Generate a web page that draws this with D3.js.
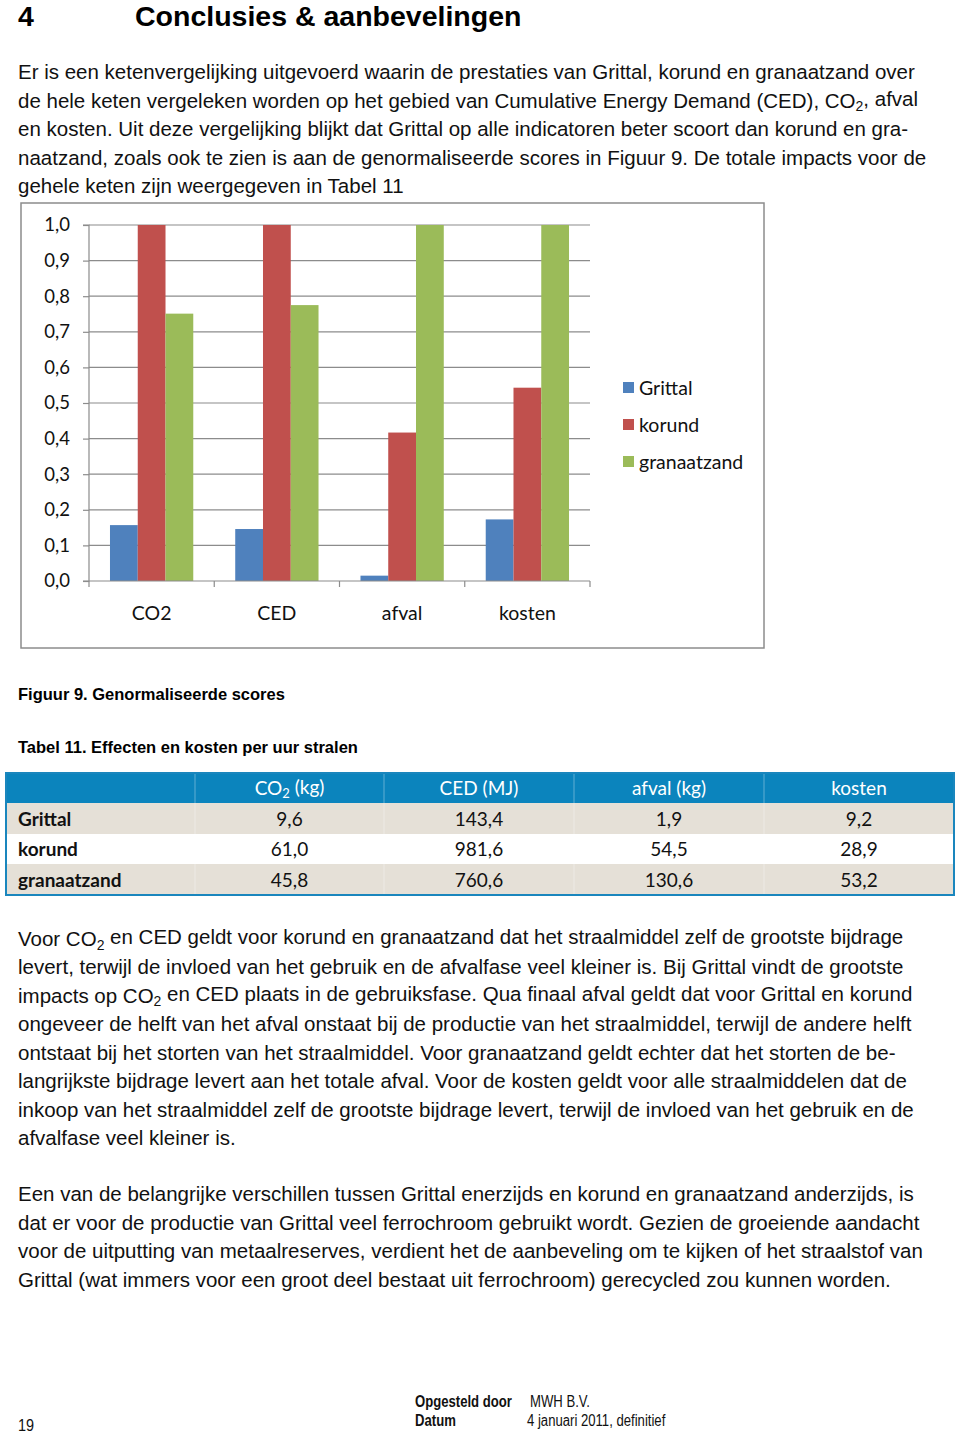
<!DOCTYPE html>
<html><head><meta charset="utf-8">
<script src="https://cdn.jsdelivr.net/npm/d3@7/dist/d3.min.js"></script>
<style>
html,body{margin:0;padding:0;background:#fff;}
svg{display:block;}
</style></head>
<body>
<svg id="page" width="960" height="1435"></svg>
<script>
// ---- chart data ----
const categories = ["CO2", "CED", "afval", "kosten"];
const seriesNames = ["Grittal", "korund", "granaatzand"];
const grittal = [0.157, 0.146, 0.015, 0.173];
const korund = [1.0, 1.0, 0.417, 0.543];
const granaatzand = [0.751, 0.775, 1.0, 1.0];
const yTicks = [0, 0.1, 0.2, 0.3, 0.4, 0.5, 0.6, 0.7, 0.8, 0.9, 1.0];
const seriesColors = ["#4f81bd", "#c0504d", "#9bbb59"];

// ---- table data ----
const tableHeaders = ["", "CO|2| (kg)", "CED (MJ)", "afval (kg)", "kosten"];
const tableLabels = ["Grittal", "korund", "granaatzand"];
const tableCO2 = ["9,6", "61,0", "45,8"];
const tableCED = ["143,4", "981,6", "760,6"];
const tableAfval = ["1,9", "54,5", "130,6"];
const tableKosten = ["9,2", "28,9", "53,2"];

// ---- text ----
const introLines = [
 "Er is een ketenvergelijking uitgevoerd waarin de prestaties van Grittal, korund en granaatzand over",
 "de hele keten vergeleken worden op het gebied van Cumulative Energy Demand (CED), CO|2|, afval",
 "en kosten. Uit deze vergelijking blijkt dat Grittal op alle indicatoren beter scoort dan korund en gra-",
 "naatzand, zoals ook te zien is aan de genormaliseerde scores in Figuur 9.  De totale impacts voor de",
 "gehele keten zijn weergegeven in Tabel 11"
];
const para2 = [
 "Voor CO|2| en CED geldt voor korund en granaatzand dat het straalmiddel zelf de grootste bijdrage",
 "levert, terwijl de invloed van het gebruik en de afvalfase veel kleiner is. Bij Grittal vindt de grootste",
 "impacts op CO|2| en CED plaats in de gebruiksfase. Qua finaal afval geldt dat voor Grittal en korund",
 "ongeveer de helft van het afval onstaat bij de productie van het straalmiddel, terwijl de andere helft",
 "ontstaat bij het storten van het straalmiddel. Voor granaatzand geldt echter dat het storten de be-",
 "langrijkste bijdrage levert aan het totale afval. Voor de kosten geldt voor alle straalmiddelen dat de",
 "inkoop van het straalmiddel zelf de grootste bijdrage levert, terwijl de invloed van het gebruik en de",
 "afvalfase veel kleiner is."
];
const para3 = [
 "Een van de belangrijke verschillen tussen Grittal enerzijds en korund en granaatzand anderzijds, is",
 "dat er voor de productie van Grittal veel ferrochroom gebruikt wordt. Gezien de groeiende aandacht",
 "voor de uitputting  van metaalreserves, verdient het de aanbeveling om te kijken of het straalstof van",
 "Grittal (wat immers voor een groot deel bestaat uit ferrochroom) gerecycled zou kunnen worden."
];

const svg = d3.select("#page");
const ARIAL = "'Liberation Sans', Arial, sans-serif";
const CAL = "Lato, 'Open Sans', sans-serif";

function richText(sel, str, subSize) {
  const parts = str.split("|");
  parts.forEach((p, i) => {
    if (!p) return;
    const t = sel.append("tspan").text(p);
    if (i % 2 === 1) {
      t.attr("font-size", subSize).attr("dy", "0.25em");
    } else if (i > 0) {
      t.attr("dy", "-0.25em");
    }
  });
}

// heading
svg.append("text").attr("x", 18).attr("y", 25.5).attr("font-family", ARIAL)
  .attr("font-weight", "bold").attr("font-size", 28.5).text("4");
svg.append("text").attr("x", 135).attr("y", 25.5).attr("font-family", ARIAL)
  .attr("font-weight", "bold").attr("font-size", 28.5).text("Conclusies & aanbevelingen");

function paragraph(lines, y0, step) {
  lines.forEach((l, i) => {
    const t = svg.append("text").attr("x", 18).attr("y", y0 + i * step)
      .attr("font-family", ARIAL).attr("font-size", 20.5).attr("fill", "#111");
    richText(t, l, 14);
  });
}
paragraph(introLines, 79, 28.5);
paragraph(para2, 946, 28.45);
paragraph(para3, 1201, 28.5);

// ---- chart ----
svg.append("rect").attr("x", 21).attr("y", 203).attr("width", 743).attr("height", 445)
  .attr("fill", "#fff").attr("stroke", "#8c8c8c").attr("stroke-width", 1.5);

const plot = { left: 89, right: 590, top: 225, bottom: 581 };
const x0 = d3.scaleBand().domain(categories).range([plot.left, plot.right]).paddingInner(0.335).paddingOuter(0.1675);
const x1 = d3.scaleBand().domain(seriesNames).range([0, x0.bandwidth()]);
const y = d3.scaleLinear().domain([0, 1]).range([plot.bottom, plot.top]);

const g = svg.append("g");
g.selectAll(".grid").data(yTicks.slice(1)).enter().append("line")
  .attr("x1", plot.left).attr("x2", plot.right)
  .attr("y1", d => y(d)).attr("y2", d => y(d))
  .attr("stroke", "#8c8c8c").attr("stroke-width", 1.2);

const seriesData = [grittal, korund, granaatzand];
seriesNames.forEach((s, si) => {
  g.selectAll(".bar" + si).data(categories).enter().append("rect")
    .attr("x", c => x0(c) + x1(s))
    .attr("width", x1.bandwidth())
    .attr("y", (c, ci) => y(seriesData[si][ci]))
    .attr("height", (c, ci) => plot.bottom - y(seriesData[si][ci]))
    .attr("fill", seriesColors[si]);
});

const yAxis = d3.axisLeft(y).tickValues(yTicks).tickSize(6).tickPadding(13)
  .tickFormat(d => d3.format(".1f")(d).replace(".", ","));
const ya = svg.append("g").attr("transform", `translate(${plot.left},0)`).call(yAxis);
ya.select(".domain").attr("stroke", "#8c8c8c").attr("stroke-width", 1.2).attr("d", `M-6,${plot.top}H0V${plot.bottom}H-6`);
ya.selectAll(".tick line").attr("stroke", "#8c8c8c").attr("stroke-width", 1.2);
ya.selectAll(".tick text").attr("font-family", CAL).attr("font-size", 18.5).attr("fill", "#111");

const catStep = (plot.right - plot.left) / categories.length;
const xa = svg.append("g").attr("transform", `translate(0,${plot.bottom})`);
xa.append("line").attr("x1", plot.left).attr("x2", plot.right).attr("stroke", "#8c8c8c").attr("stroke-width", 1.2);
xa.selectAll(".xt").data(d3.range(categories.length + 1)).enter().append("line")
  .attr("x1", i => plot.left + i * catStep).attr("x2", i => plot.left + i * catStep)
  .attr("y1", 0).attr("y2", 6).attr("stroke", "#8c8c8c").attr("stroke-width", 1.2);
xa.selectAll(".xl").data(categories).enter().append("text")
  .attr("x", c => x0(c) + x0.bandwidth() / 2).attr("y", 39)
  .attr("text-anchor", "middle").attr("font-family", CAL).attr("font-size", 19.5).attr("fill", "#111")
  .text(c => c);

seriesNames.forEach((s, i) => {
  const ly = 388 + i * 37;
  svg.append("rect").attr("x", 623).attr("y", ly - 6).attr("width", 11).attr("height", 11).attr("fill", seriesColors[i]);
  svg.append("text").attr("x", 639).attr("y", ly + 6.5).attr("font-family", CAL).attr("font-size", 19.5)
    .attr("fill", "#111").text(s);
});

// captions
svg.append("text").attr("x", 18).attr("y", 700).attr("font-family", ARIAL).attr("font-weight", "bold")
  .attr("font-size", 16.5).text("Figuur 9. Genormaliseerde scores");
svg.append("text").attr("x", 18).attr("y", 753).attr("font-family", ARIAL).attr("font-weight", "bold")
  .attr("font-size", 16.5).text("Tabel 11. Effecten en kosten per uur stralen");

// ---- table ----
const colX = [6, 195, 384, 574, 764, 954];
const rowY = [773, 803, 834, 864, 895];
const tg = svg.append("g");
tg.append("rect").attr("x", colX[0]).attr("y", rowY[0]).attr("width", colX[5] - colX[0]).attr("height", rowY[1] - rowY[0]).attr("fill", "#0b84bd");
tableLabels.forEach((l, i) => {
  tg.append("rect").attr("x", colX[0]).attr("y", rowY[i + 1]).attr("width", colX[5] - colX[0])
    .attr("height", rowY[i + 2] - rowY[i + 1]).attr("fill", i % 2 === 0 ? "#e5e0d7" : "#ffffff");
});
for (let c = 1; c < 5; c++) {
  tg.append("line").attr("x1", colX[c]).attr("x2", colX[c]).attr("y1", rowY[0]).attr("y2", rowY[4])
    .attr("stroke", "#ffffff").attr("stroke-opacity", 0.35).attr("stroke-width", 1);
}
tg.append("rect").attr("x", colX[0]).attr("y", rowY[0]).attr("width", colX[5] - colX[0]).attr("height", rowY[4] - rowY[0])
  .attr("fill", "none").attr("stroke", "#1a86bd").attr("stroke-width", 2);

tableHeaders.forEach((h, c) => {
  if (!h) return;
  const t = tg.append("text").attr("x", (colX[c] + colX[c + 1]) / 2).attr("y", 795)
    .attr("text-anchor", "middle").attr("font-family", CAL).attr("font-size", 19).attr("fill", "#ffffff");
  richText(t, h, 13);
});
const cols = [tableCO2, tableCED, tableAfval, tableKosten];
tableLabels.forEach((l, r) => {
  const by = (rowY[r + 1] + rowY[r + 2]) / 2 + 7;
  tg.append("text").attr("x", 18).attr("y", by).attr("font-family", CAL).attr("font-weight", "bold")
    .attr("font-size", 19).attr("fill", "#111").text(l);
  cols.forEach((col, c) => {
    tg.append("text").attr("x", (colX[c + 1] + colX[c + 2]) / 2).attr("y", by)
      .attr("text-anchor", "middle").attr("font-family", CAL).attr("font-size", 19).attr("fill", "#111").text(col[r]);
  });
});

// ---- footer (narrow type, simulated by horizontal scaling) ----
function narrow(x, yy, txt, bold, size, sx) {
  svg.append("text").attr("transform", `translate(${x},${yy}) scale(${sx},1)`)
    .attr("font-family", ARIAL).attr("font-weight", bold ? "bold" : "normal")
    .attr("font-size", size).attr("fill", "#111").text(txt);
}
narrow(18, 1431, "19", false, 17, 0.85);
narrow(415, 1407, "Opgesteld door", true, 16, 0.82);
narrow(530, 1407, "MWH B.V.", false, 16, 0.82);
narrow(415, 1426, "Datum", true, 16, 0.82);
narrow(527, 1426, "4 januari 2011, definitief", false, 16, 0.82);
</script>
</body></html>
